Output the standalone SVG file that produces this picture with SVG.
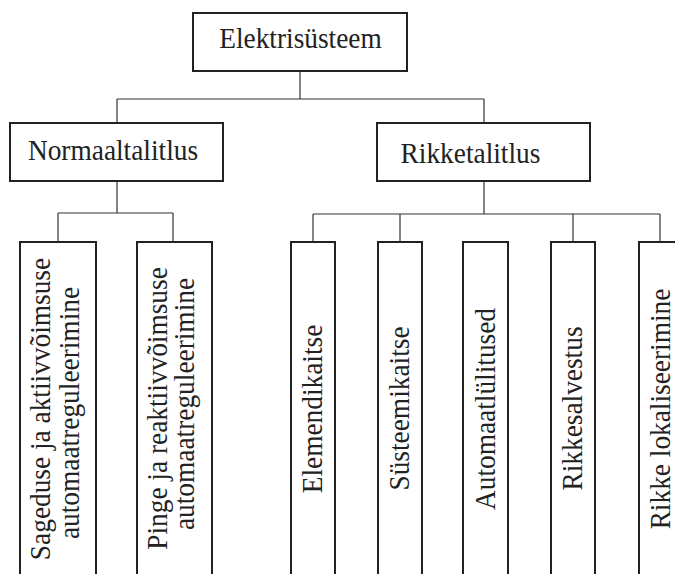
<svg xmlns="http://www.w3.org/2000/svg" width="675" height="574" viewBox="0 0 675 574">
<style>
.box{fill:#fff;stroke:#222;stroke-width:2}
.t{font-family:"Liberation Serif","Times New Roman",serif;font-size:28.5px;fill:#222}
.m{text-anchor:middle}
#connectors line{stroke:#333;stroke-width:1.2}
</style>
<rect width="675" height="574" fill="#fff"/>
<g id="connectors">
<line x1="300" y1="71" x2="300" y2="99"/>
<line x1="117" y1="99" x2="484" y2="99"/>
<line x1="117" y1="99" x2="117" y2="123"/>
<line x1="484" y1="99" x2="484" y2="123"/>
<line x1="117" y1="181" x2="117" y2="213"/>
<line x1="58" y1="213" x2="173" y2="213"/>
<line x1="58" y1="213" x2="58" y2="242"/>
<line x1="173" y1="213" x2="173" y2="242"/>
<line x1="484" y1="181" x2="484" y2="214"/>
<line x1="313" y1="214" x2="660" y2="214"/>
<line x1="313" y1="214" x2="313" y2="242"/>
<line x1="400" y1="214" x2="400" y2="242"/>
<line x1="573" y1="214" x2="573" y2="242"/>
<line x1="660" y1="214" x2="660" y2="242"/>
</g>
<g id="n-elektri">
<rect class="box" x="193" y="13" width="214" height="58"/>
<text class="t m" transform="translate(300.5,48) scale(0.96,1)">Elektrisüsteem</text>
</g>
<g id="n-normaal">
<rect class="box" x="10" y="123" width="213" height="58"/>
<text class="t m" transform="translate(113,160) scale(0.96,1)">Normaaltalitlus</text>
</g>
<g id="n-rikke">
<rect class="box" x="377" y="123" width="213" height="58"/>
<text class="t m" transform="translate(470.5,163) scale(0.96,1)">Rikketalitlus</text>
</g>
<g id="n-sagedus">
<rect class="box" x="20" y="242" width="76" height="340"/>
<text class="t m" transform="translate(49.5,409) rotate(-90) scale(0.96,1)">Sageduse ja aktiivvõimsuse</text>
<text class="t m" transform="translate(79,413) rotate(-90) scale(0.96,1)">automaatreguleerimine</text>
</g>
<g id="n-pinge">
<rect class="box" x="137" y="242" width="75" height="340"/>
<text class="t m" transform="translate(166.5,408.5) rotate(-90) scale(0.96,1)">Pinge ja reaktiivvõimsuse</text>
<text class="t m" transform="translate(194,404) rotate(-90) scale(0.96,1)">automaatreguleerimine</text>
</g>
<g id="n-element">
<rect class="box" x="291" y="242" width="44" height="340"/>
<text class="t m" transform="translate(322,409) rotate(-90) scale(0.96,1)">Elemendikaitse</text>
</g>
<g id="n-susteem">
<rect class="box" x="378" y="242" width="44" height="340"/>
<text class="t m" transform="translate(409,408.5) rotate(-90) scale(0.96,1)">Süsteemikaitse</text>
</g>
<g id="n-automaat">
<rect class="box" x="463" y="242" width="45" height="340"/>
<text class="t m" transform="translate(495,409) rotate(-90) scale(0.96,1)">Automaatlülitused</text>
</g>
<g id="n-salvestus">
<rect class="box" x="551" y="242" width="44" height="340"/>
<text class="t m" transform="translate(582,408.5) rotate(-90) scale(0.96,1)">Rikkesalvestus</text>
</g>
<g id="n-lokal">
<rect class="box" x="639" y="242" width="45" height="340"/>
<text class="t m" transform="translate(670,409) rotate(-90) scale(0.96,1)">Rikke lokaliseerimine</text>
</g>
</svg>
